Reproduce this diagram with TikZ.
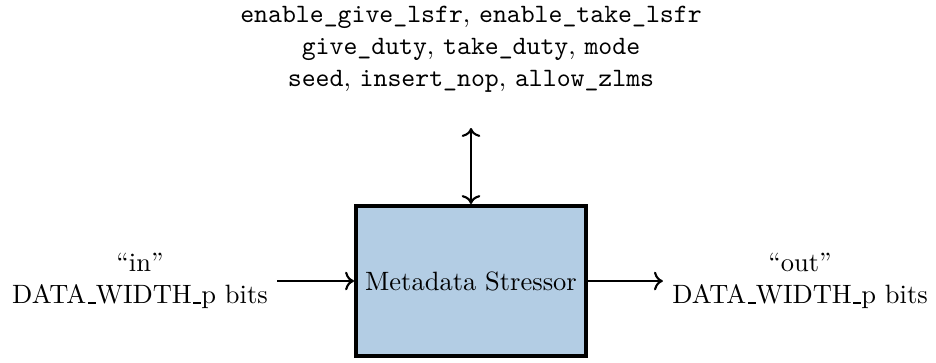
\documentclass[tikz,border=0pt]{standalone}
\usetikzlibrary{arrows.meta}
\definecolor{boxfill}{RGB}{179,205,228}
\newcommand\rus{\leavevmode\kern.06em\vbox{\hrule width.3em}}
\begin{document}
\begin{tikzpicture}[x=0.3774pt,y=-0.3774pt,
  block/.style={draw,line width=1.5pt,fill=boxfill,minimum width=86.8pt,minimum height=56.6pt,inner sep=0pt},
  lbl/.style={align=center,inner sep=3.33pt},
  conn/.style={->,line width=0.8pt}]
\useasboundingbox (0,0) rectangle (936,362);
\node[block] (box) at (471,281) {Metadata Stressor};
\node[lbl] (params) at (471,49) {\texttt{enable\_give\_lsfr}, \texttt{enable\_take\_lsfr}\\
  \texttt{give\_duty}, \texttt{take\_duty}, \texttt{mode}\\
  \texttt{seed}, \texttt{insert\_nop}, \texttt{allow\_zlms}};
\node[lbl] (in) at (140,281) {“in”\\DATA\rus WIDTH\rus p bits};
\node[lbl] (out) at (800,281) {“out”\\DATA\rus WIDTH\rus p bits};
\coordinate (ctl) at (471,128);
\draw[conn] (in.east) -- (box.west);
\draw[conn] (box.east) -- (out.west);
\draw[conn,<->] (ctl) -- (box.north);
\end{tikzpicture}
\end{document}
